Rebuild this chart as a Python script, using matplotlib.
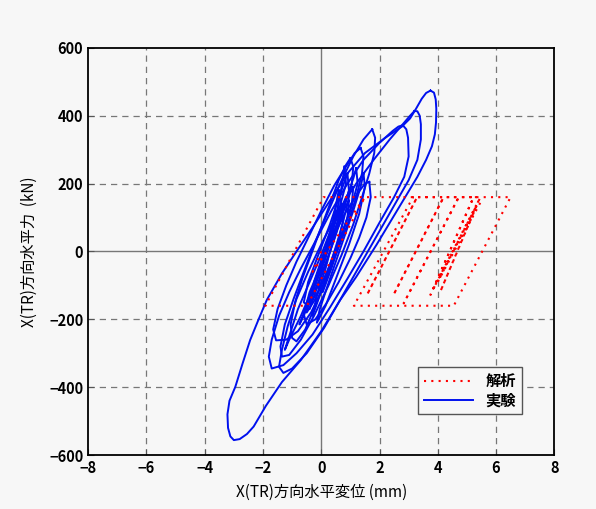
import numpy as np
import matplotlib.pyplot as plt

plt.rcParams['font.family'] = ['Noto Sans CJK JP', 'DejaVu Sans']

# 解析 (bilinear model) - turning points
red_x = [0.0, -0.3, 1.5, -0.49, -1.92, 0.08, 6.5, 4.55, 1.12, 3.15, 3.29, 1.57, 3.29,
         4.2, 2.48, 4.2, 4.72, 2.83, 4.72, 5.23, 3.75, 5.23, 5.46, 4.09, 5.4, 3.85, 5.3,
         4.0, 5.5]
red_y = [0, -60, 160, -160, -160, 160, 160, -160, -160, 160, 160, -128, 160,
         160, -128, 160, 160, -153, 160, 160, -128, 160, 160, -118, 150, -110, 130,
         -90, 150]

# 実験 loops
loopA_x = [3.75, 3.87, 3.93, 3.95, 3.94, 3.9, 3.8, 3.6, 3.3, 2.6, 1.9, 1.2, 0.65, 0.0,
           -0.7, -1.35, -1.9, -2.32, -2.55, -2.8, -3.0, -3.12, -3.2, -3.22, -3.15, -2.95,
           -2.7, -2.44, -2.15, -1.87, -1.35, -0.85, -0.3, 0.3, 0.9, 1.5, 2.2, 2.77, 3.05,
           3.23, 3.45, 3.6, 3.75]
loopA_y = [474, 468, 448, 420, 380, 345, 310, 270, 220, 120, 20, -75, -143, -235,
           -320, -385, -455, -516, -538, -553, -556, -545, -520, -480, -440, -399,
           -330, -261, -200, -143, -65, 0, 70, 150, 230, 290, 335, 368, 392,
           417, 450, 467, 474]

loopB_x = [3.2, 3.3, 3.38, 3.42, 3.42, 3.3, 3.0, 2.5, 1.9, 1.3, 0.7, 0.1, -0.5, -1.0,
           -1.3, -1.45, -1.35, -1.15, -0.85, -0.45, 0.05, 0.6, 1.2, 1.8, 2.35, 2.8,
           3.05, 3.2]
loopB_y = [414, 413, 400, 375, 330, 270, 210, 135, 45, -45, -135, -225, -300, -345,
           -358, -340, -290, -220, -140, -60, 30, 120, 200, 270, 330, 375,
           400, 414]

loopC_x = [2.8, 2.92, 2.98, 3.0, 2.85, 2.5, 2.0, 1.45, 0.9, 0.3, -0.3, -0.85, -1.3, -1.7,
           -1.8, -1.7, -1.45, -1.1, -0.7, -0.2, 0.35, 0.9, 1.45, 2.0, 2.45, 2.65, 2.8]
loopC_y = [372, 360, 335, 280, 220, 160, 85, 0, -80, -165, -245, -300, -335, -345,
           -310, -260, -190, -120, -50, 30, 120, 200, 270, 320, 355, 368, 372]

loopD_x = [1.75, 1.85, 1.82, 1.65, 1.4, 1.1, 0.7, 0.25, -0.25, -0.7, -1.1, -1.35, -1.4,
           -1.25, -0.95, -0.6, -0.2, 0.25, 0.7, 1.1, 1.45, 1.75]
loopD_y = [360, 335, 290, 230, 160, 80, -10, -100, -190, -260, -305, -310, -280,
           -215, -140, -60, 30, 120, 210, 280, 330, 360]

loopE_x = [1.35, 1.45, 1.4, 1.2, 0.9, 0.5, 0.1, -0.35, -0.8, -1.2, -1.55, -1.65, -1.5,
           -1.2, -0.85, -0.45, 0.0, 0.45, 0.85, 1.15, 1.35]
loopE_y = [305, 280, 230, 160, 80, -10, -100, -180, -235, -260, -262, -230, -170,
           -100, -30, 40, 120, 195, 250, 290, 305]

loopF_x = [1.0, 1.1, 1.05, 0.9, 0.7, 0.45, 0.15, -0.2, -0.55, -0.85, -1.0, -1.05, -0.9,
           -0.65, -0.35, -0.05, 0.3, 0.6, 0.85, 1.0]
loopF_y = [275, 250, 200, 140, 70, 0, -80, -160, -230, -265, -255, -215, -150,
           -80, -10, 60, 140, 210, 255, 275]

loopG_x = [1.65, 1.7, 1.55, 1.3, 1.0, 0.6, 0.2, -0.2, -0.5, -0.6, -0.4, 0.0, 0.4, 0.8,
           1.2, 1.5, 1.65]
loopG_y = [205, 160, 100, 40, -20, -90, -150, -200, -215, -185, -120, -40, 40, 110,
           165, 200, 205]

core1_x = [0.9, 0.95, 0.7, 0.3, -0.1, -0.45, -0.6, -0.45, -0.1, 0.3, 0.65, 0.9]
core1_y = [230, 180, 100, 0, -90, -160, -150, -90, -10, 80, 170, 230]
core2_x = [1.2, 1.25, 1.0, 0.6, 0.2, -0.2, -0.5, -0.35, 0.0, 0.4, 0.8, 1.1, 1.2]
core2_y = [245, 200, 120, 30, -60, -140, -180, -120, -40, 50, 140, 215, 245]
core3_x = [0.6, 0.7, 0.5, 0.15, -0.2, -0.4, -0.25, 0.1, 0.4, 0.6]
core3_y = [180, 120, 50, -40, -120, -170, -100, -10, 90, 180]
core4_x = [1.1, 1.05, 0.75, 0.35, -0.05, -0.35, -0.25, 0.1, 0.5, 0.85, 1.1]
core4_y = [190, 140, 60, -30, -110, -150, -90, 0, 90, 160, 190]
core5_x = [0.5, 0.4, 0.1, -0.3, -0.7, -1.1, -1.25, -1.1, -0.8, -0.4, 0.0, 0.4, 0.5]
core5_y = [120, 60, -20, -110, -190, -260, -290, -250, -170, -90, -10, 80, 120]
core6_x = [0.8, 0.85, 0.6, 0.25, -0.15, -0.5, -0.75, -0.6, -0.25, 0.15, 0.45, 0.7, 0.8]
core6_y = [250, 200, 120, 30, -70, -160, -215, -190, -110, -20, 80, 190, 250]
core7_x = [1.45, 1.5, 1.3, 0.95, 0.55, 0.15, -0.15, -0.05, 0.3, 0.7, 1.1, 1.35, 1.45]
core7_y = [230, 190, 110, 20, -70, -160, -210, -170, -80, 20, 120, 190, 230]
core8_x = [0.7, 0.75, 0.55, 0.25, -0.05, -0.3, -0.15, 0.15, 0.45, 0.7]
core8_y = [140, 90, 20, -60, -130, -190, -130, -50, 50, 140]
core9_x = [0.95, 0.9, 0.65, 0.35, 0.05, -0.1, 0.05, 0.35, 0.7, 0.95]
core9_y = [150, 100, 30, -50, -120, -110, -40, 40, 110, 150]

blue_loops = [(core3_x, core3_y), (core1_x, core1_y), (core4_x, core4_y),
              (core6_x, core6_y), (core2_x, core2_y), (core7_x, core7_y),
              (core8_x, core8_y), (core9_x, core9_y),
              (core5_x, core5_y), (loopG_x, loopG_y),
              (loopF_x, loopF_y), (loopE_x, loopE_y), (loopD_x, loopD_y),
              (loopC_x, loopC_y), (loopB_x, loopB_y), (loopA_x, loopA_y)]

bg = '#f7f7f7'
fig = plt.figure(figsize=(5.96, 5.09), dpi=100, facecolor=bg)
ax = fig.add_axes([0.148, 0.106, 0.782, 0.80], facecolor=bg)

# grid + zero axes
for gx in [-6, -4, -2, 2, 4, 6]:
    ax.axvline(gx, color='#777777', lw=0.9, ls=(0, (5, 4)), zorder=0)
for gy in [-400, -200, 200, 400]:
    ax.axhline(gy, color='#777777', lw=0.9, ls=(0, (5, 4)), zorder=0)
ax.axvline(0, color='#777777', lw=1.0, zorder=0)
ax.axhline(0, color='#777777', lw=1.0, zorder=0)

for i, (lx, ly) in enumerate(blue_loops):
    ax.plot(lx, ly, color='#0010ee', lw=1.4, zorder=2, solid_joinstyle='round',
            label='実験' if i == 0 else None)
ax.plot(red_x, red_y, color='#ff0000', lw=1.5, ls=(0, (1, 2.5)), label='解析', zorder=3)

ax.set_xlim(-8, 8)
ax.set_ylim(-600, 600)
ax.set_xticks(np.arange(-8, 9, 2))
ax.set_yticks(np.arange(-600, 601, 200))
ax.tick_params(direction='in', length=4, labelsize=10.5, color='#555555')
for lab in ax.get_xticklabels() + ax.get_yticklabels():
    lab.set_fontweight('bold')
for s in ax.spines.values():
    s.set_linewidth(1.3)
    s.set_color('black')

ax.set_xlabel('X(TR)方向水平変位 (mm)', fontsize=11, labelpad=6)
ax.set_ylabel('X(TR)方向水平力  (kN)', fontsize=11, labelpad=8)

h, l = ax.get_legend_handles_labels()
leg = ax.legend(h[::-1], l[::-1], loc='upper right', bbox_to_anchor=(0.931, 0.216),
                borderaxespad=0, fancybox=False, edgecolor='#555555', facecolor=bg,
                framealpha=1, handlelength=3.2, borderpad=0.4,
                labelspacing=0.2, prop={'weight': 'bold', 'size': 11})

fig.savefig('out.png', dpi=100, facecolor=bg)
